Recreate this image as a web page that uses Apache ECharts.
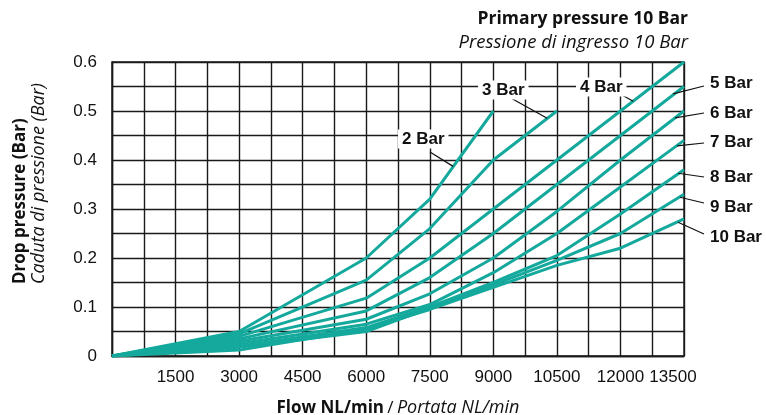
<!DOCTYPE html>
<html><head><meta charset="utf-8">
<script src="https://cdn.jsdelivr.net/npm/echarts@6/dist/echarts.min.js"></script>
<style>html,body{margin:0;padding:0;background:#fff}#c{width:766px;height:415px}</style>
</head><body><div id="c"></div>
<script>
// ---- data ----
const flow = [0, 3000, 6000, 7500, 9000, 10500, 12000, 13500];
const seriesNames = ['2 Bar','3 Bar','4 Bar','5 Bar','6 Bar','7 Bar','8 Bar','9 Bar','10 Bar'];
const drop2  = [0, 0.05, 0.2, 0.32, 0.5];
const drop3  = [0, 0.045, 0.155, 0.26, 0.4, 0.5];
const drop4  = [0, 0.04, 0.118, 0.2, 0.3, 0.4, 0.5, 0.6];
const drop5  = [0, 0.035, 0.092, 0.16, 0.25, 0.35, 0.45, 0.55];
const drop6  = [0, 0.03, 0.075, 0.127, 0.2, 0.295, 0.4, 0.5];
const drop7  = [0, 0.025, 0.065, 0.105, 0.17, 0.25, 0.345, 0.44];
const drop8  = [0, 0.02, 0.058, 0.1, 0.15, 0.205, 0.29, 0.38];
const drop9  = [0, 0.018, 0.05, 0.098, 0.145, 0.195, 0.25, 0.33];
const drop10 = [0, 0.012, 0.055, 0.095, 0.14, 0.185, 0.22, 0.28];
const xTickLabels = [1500, 3000, 4500, 6000, 7500, 9000, 10500, 12000, 13500];
const yTickLabels = ['0', '0.1', '0.2', '0.3', '0.4', '0.5', '0.6'];
// leader anchor points on the curves (flow, drop)
const anchorFlow = [8050, 10270, 12300, 13240, 13290, 13335, 13360, 13405, 13360];
const anchorDrop = [0.387, 0.485, 0.52, 0.535, 0.486, 0.429, 0.373, 0.324, 0.273];

const allDrops = [drop2, drop3, drop4, drop5, drop6, drop7, drop8, drop9, drop10];

// ---- layout / style ----
const TEAL = '#14a99c';
const INK = '#1a1a1a';
const labelFont = 'bold 17px "Liberation Sans", Arial, sans-serif';
const titleFamily = '"Open Sans", Lato, sans-serif';
// label text positions [x, y (middle)] and leader start points (pixels)
const labelBoxes = [
  {x: 398, y: 139, sx: 430, sy: 152, bg: true},
  {x: 478, y: 90,  sx: 509, sy: 97,  bg: true},
  {x: 576, y: 87,  sx: 622, sy: 95,  bg: true},
  {x: 710, y: 83,  sx: 704, sy: 86},
  {x: 710, y: 113, sx: 704, sy: 113},
  {x: 710, y: 142, sx: 704, sy: 143},
  {x: 710, y: 177, sx: 704, sy: 177},
  {x: 710, y: 207, sx: 704, sy: 203},
  {x: 710, y: 237, sx: 704, sy: 234}
];

const chart = echarts.init(document.getElementById('c'), null, {renderer: 'canvas'});

const series = seriesNames.map((name, i) => ({
  name: name,
  type: 'line',
  data: allDrops[i].map((v, k) => [flow[k], v]),
  symbol: 'none',
  lineStyle: {color: TEAL, width: 3},
  z: 3,
  animation: false
}));

const tickFont = '"Liberation Sans", Arial, sans-serif';

chart.setOption({
  animation: false,
  backgroundColor: '#fff',
  grid: {left: 112, right: 82, top: 62, bottom: 59, show: true, borderColor: INK, borderWidth: 1.4,
         containLabel: false, outerBoundsMode: 'none'},
  xAxis: {
    type: 'value', min: 0, max: 13500, interval: 750,
    axisLine: {show: true, lineStyle: {color: INK, width: 1.4}},
    axisTick: {show: false},
    splitLine: {show: true, lineStyle: {color: INK, width: 1.4}},
    axisLabel: {
      interval: 0, margin: 13, color: '#111', fontSize: 17, fontFamily: tickFont,
      showMinLabel: true, showMaxLabel: true, hideOverlap: false,
      formatter: v => {
        const r = Math.round(v);
        if (xTickLabels.indexOf(r) < 0) return '';
        return r === xTickLabels[xTickLabels.length - 1] ? '{m|' + r + '}' : String(r);
      },
      rich: {m: {fontSize: 17, fontFamily: tickFont, color: '#111', padding: [0, 22, 0, 0]}}
    },
    name: '{b|Flow NL/min} {s|/} {i|Portata NL/min}',
    nameLocation: 'middle', nameGap: 43,
    nameTextStyle: {
      rich: {
        b: {fontFamily: titleFamily, fontWeight: 'bold', fontSize: 17, color: '#111'},
        s: {fontFamily: titleFamily, fontSize: 17, color: '#111'},
        i: {fontFamily: titleFamily, fontStyle: 'italic', fontSize: 18, color: '#111'}
      }
    }
  },
  yAxis: {
    type: 'value', min: 0, max: 0.6, interval: 0.05,
    axisLine: {show: true, lineStyle: {color: INK, width: 1.4}},
    axisTick: {show: false},
    splitLine: {show: true, lineStyle: {color: INK, width: 1.4}},
    axisLabel: {
      interval: 0, margin: 15, color: '#111', fontSize: 17, fontFamily: tickFont,
      showMinLabel: true, showMaxLabel: true,
      formatter: v => {
        const t = yTickLabels.find(s => Math.abs(parseFloat(s) - v) < 1e-9);
        return t === undefined ? '' : t;
      }
    }
  },
  series: series
});

const g = [];
// top-right title
g.push({type: 'text', right: 78, top: 10, z: 10,
  style: {text: 'Primary pressure 10 Bar', font: 'bold 17.5px ' + titleFamily, fill: '#111', textAlign: 'right'}});
g.push({type: 'text', right: 78, top: 33, z: 10,
  style: {text: 'Pressione di ingresso 10 Bar', font: 'italic 18.5px ' + titleFamily, fill: '#111', textAlign: 'right'}});
// y axis titles (rotated, reading upward)
g.push({type: 'text', x: 20, y: 284, rotation: Math.PI / 2, z: 10,
  style: {text: 'Drop pressure (Bar)', font: 'bold 17px ' + titleFamily, fill: '#111', textAlign: 'left', textVerticalAlign: 'middle'}});
g.push({type: 'text', x: 39, y: 284, rotation: Math.PI / 2, z: 10,
  style: {text: 'Caduta di pressione (Bar)', font: 'italic 18px ' + titleFamily, fill: '#111', textAlign: 'left', textVerticalAlign: 'middle'}});

seriesNames.forEach((name, i) => {
  const lb = labelBoxes[i];
  const p = chart.convertToPixel({gridIndex: 0}, [anchorFlow[i], anchorDrop[i]]);
  g.push({type: 'line', z: 8,
    shape: {x1: lb.sx, y1: lb.sy, x2: p[0], y2: p[1]},
    style: {stroke: '#111', lineWidth: 1.2}});
  g.push({type: 'text', x: lb.x, y: lb.y, z: 9,
    style: Object.assign({text: name, font: labelFont, fill: '#111', textAlign: 'left', textVerticalAlign: 'middle'},
      lb.bg ? {backgroundColor: '#fff', padding: [1, 4, 1, 4]} : {})});
});

chart.setOption({graphic: g});
</script>
</body></html>
